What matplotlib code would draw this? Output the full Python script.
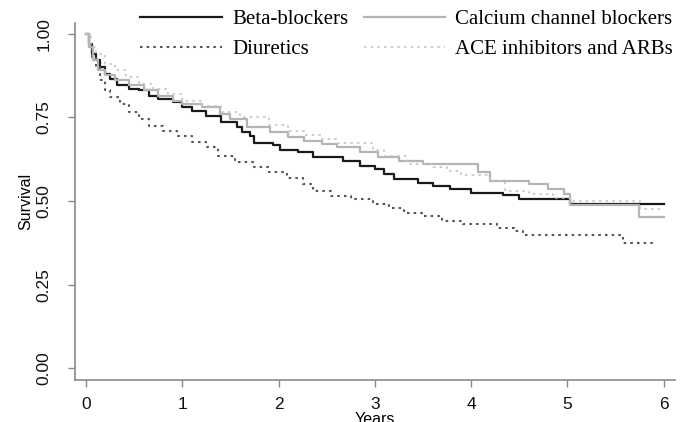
import numpy as np
import matplotlib
matplotlib.use("Agg")
import matplotlib.pyplot as plt

# Kaplan-Meier step values (years, survival)
t_beta = [0, 0.03, 0.06, 0.1, 0.15, 0.2, 0.25, 0.32, 0.45, 0.55, 0.65, 0.75, 0.9, 1.0, 1.1,
          1.25, 1.4, 1.57, 1.62, 1.7, 1.75, 1.94, 2.02, 2.2, 2.36, 2.67, 2.85, 3.0, 3.1, 3.2,
          3.45, 3.6, 3.78, 4.0, 4.33, 4.5, 5.03, 6.0]
s_beta = [1.0, 0.97, 0.94, 0.92, 0.90, 0.88, 0.865, 0.845, 0.835, 0.83, 0.815, 0.805, 0.795,
          0.78, 0.77, 0.755, 0.735, 0.72, 0.705, 0.695, 0.673, 0.666, 0.652, 0.645, 0.632,
          0.62, 0.605, 0.595, 0.58, 0.565, 0.555, 0.545, 0.535, 0.525, 0.518, 0.506, 0.49, 0.49]

t_ccb = [0, 0.03, 0.07, 0.12, 0.2, 0.3, 0.45, 0.6, 0.75, 0.9, 1.0, 1.2, 1.39, 1.5, 1.67,
         1.91, 2.1, 2.26, 2.45, 2.61, 2.85, 3.03, 3.25, 3.5, 4.07, 4.2, 4.6, 4.8, 4.96, 5.03,
         5.74, 6.0]
s_ccb = [1.0, 0.96, 0.92, 0.89, 0.875, 0.86, 0.845, 0.83, 0.815, 0.80, 0.79, 0.78, 0.76,
         0.745, 0.72, 0.705, 0.69, 0.68, 0.67, 0.66, 0.645, 0.63, 0.62, 0.61, 0.586, 0.56,
         0.55, 0.535, 0.52, 0.488, 0.452, 0.452]

t_diur = [0, 0.03, 0.06, 0.1, 0.15, 0.2, 0.25, 0.35, 0.45, 0.55, 0.65, 0.8, 0.95, 1.1, 1.25,
          1.37, 1.55, 1.74, 1.9, 2.09, 2.25, 2.36, 2.55, 2.75, 2.98, 3.15, 3.3, 3.5, 3.7,
          3.92, 4.27, 4.45, 4.54, 5.58, 5.89]
s_diur = [1.0, 0.96, 0.93, 0.90, 0.86, 0.83, 0.81, 0.79, 0.765, 0.745, 0.725, 0.71, 0.695,
          0.675, 0.66, 0.635, 0.615, 0.60, 0.585, 0.57, 0.55, 0.53, 0.515, 0.505, 0.49, 0.48,
          0.465, 0.455, 0.44, 0.43, 0.42, 0.41, 0.398, 0.375, 0.375]

t_ace = [0, 0.05, 0.1, 0.2, 0.3, 0.42, 0.55, 0.7, 0.85, 1.0, 1.2, 1.4, 1.6, 1.9, 2.1, 2.26,
         2.45, 2.61, 2.98, 3.1, 3.33, 3.6, 3.75, 3.9, 4.2, 4.35, 4.6, 4.85, 5.03, 5.75, 6.0]
s_ace = [1.0, 0.96, 0.94, 0.91, 0.89, 0.87, 0.85, 0.835, 0.82, 0.80, 0.785, 0.765, 0.75,
         0.727, 0.71, 0.697, 0.685, 0.672, 0.652, 0.635, 0.61, 0.60, 0.59, 0.577, 0.56, 0.53,
         0.52, 0.51, 0.50, 0.475, 0.475]

labels = ["Beta-blockers", "Calcium channel blockers", "Diuretics", "ACE inhibitors and ARBs"]
x_ticks = [0, 1, 2, 3, 4, 5, 6]
y_ticks = [0.0, 0.25, 0.5, 0.75, 1.0]

fig = plt.figure(figsize=(6.82, 4.22), dpi=100)
ax = fig.add_axes([0.110, 0.0995, 0.880, 0.8455])

l1, = ax.plot(t_beta, s_beta, drawstyle="steps-post", color="#1a1a1a", lw=1.6)
l3, = ax.plot(t_diur, s_diur, drawstyle="steps-post", color="#555555", lw=1.5,
              linestyle=(0, (1.2, 2)))
l2, = ax.plot(t_ccb, s_ccb, drawstyle="steps-post", color="#b4b4b4", lw=1.6)
l4, = ax.plot(t_ace, s_ace, drawstyle="steps-post", color="#c4c4c4", lw=1.2,
              linestyle=(0, (1.5, 2.5)))

ax.set_xlim(-0.114, 6.12)
ax.set_ylim(-0.035, 1.031)
ax.set_xticks(x_ticks)
ax.set_yticks(y_ticks)
ax.set_yticklabels(["0.00", "0.25", "0.50", "0.75", "1.00"], rotation=90, va="center")

for side in ["top", "right"]:
    ax.spines[side].set_visible(False)
for side in ["left", "bottom"]:
    ax.spines[side].set_color("#8a8a8a")
    ax.spines[side].set_linewidth(1.2)

ax.tick_params(axis="both", colors="#8a8a8a", length=5, width=1.0, labelsize=12.5,
               labelcolor="#111111")
ax.tick_params(axis="y", pad=12)
ax.tick_params(axis="x", pad=7)
for lab in ax.get_xticklabels() + ax.get_yticklabels():
    lab.set_fontfamily("Liberation Sans")

ax.set_ylabel("Survival", fontsize=11.5, family="Liberation Sans")
ax.set_xlabel("Years", fontsize=11.5, family="Liberation Sans")
ax.yaxis.set_label_coords(-0.07, 0.5)
ax.xaxis.set_label_coords(0.5, -0.09)

# matplotlib fills legend columns first: col 1 = Beta, Diuretics; col 2 = CCB, ACE
leg = ax.legend([l1, l3, l2, l4],
                [labels[0], labels[2], labels[1], labels[3]],
                ncol=2, frameon=False, loc="upper left",
                bbox_to_anchor=(0.095, 1.062), handlelength=3.9, handletextpad=0.5,
                columnspacing=0.75, labelspacing=0.52, borderaxespad=0.0,
                prop={"family": "Liberation Serif", "size": 15})

fig.savefig("out.png", dpi=100)
